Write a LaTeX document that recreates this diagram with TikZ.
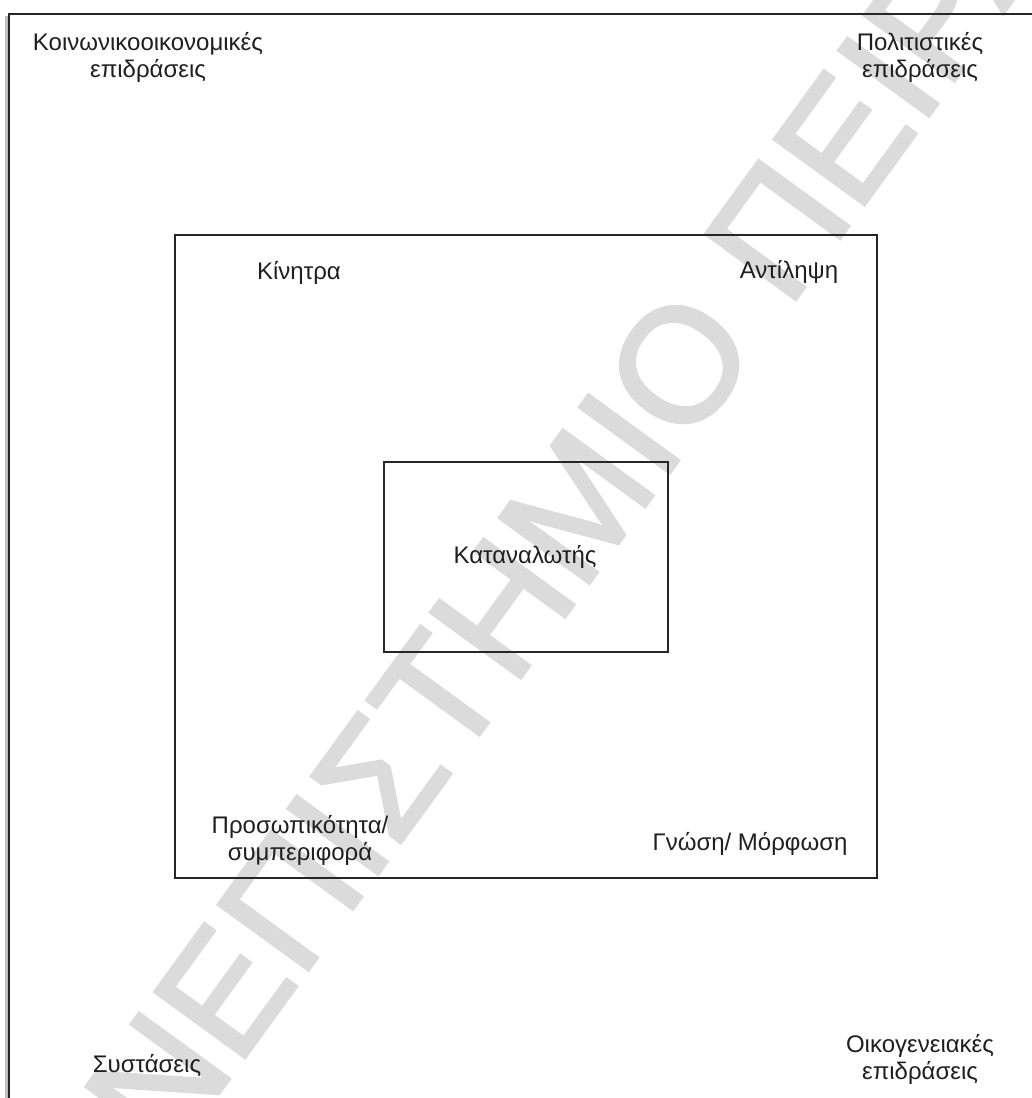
\documentclass[tikz,border=0pt]{standalone}
\usepackage{fontspec}
\setmainfont{Liberation Sans}
\newfontfamily\stampface[FakeBold=2]{Liberation Sans}
\begin{document}
\begin{tikzpicture}[x=1pt,y=-1pt,
  frame/.style={draw=black!85,line width=1.4pt},
  lbl/.style={inner sep=0pt,text=black!88,font=\fontsize{24}{27}\selectfont,align=center},
  stampfont/.style={inner sep=0pt,text=black!14,font=\stampface\fontsize{162}{162}\selectfont}
]
\useasboundingbox (0,0) rectangle (1032,1098);
\clip (0,0) rectangle (1032,1098);
\fill[white] (0,0) rectangle (1032,1098);

% background stamp
\node[stampfont,anchor=base west,rotate=54] (stamp) at (36,1345) {ΠΑΝΕΠΙΣΤΗΜΙΟ ΠΕΙΡΑΙΩΣ};

% outer frame with soft shadow on its left edge
\draw[black!25,line width=3pt] (6,16) -- (6,1110);
\draw[frame] (9,14) rectangle (1045,1115);
% middle and inner frames
\draw[frame] (175,235) rectangle (877,878);
\node[frame,draw,minimum width=284pt,minimum height=190pt,inner sep=0pt] (cons) at (526,557) {};

% labels
\node[lbl] (socio) at (148,57) {Κοινωνικοοικονομικές\\επιδράσεις};
\node[lbl] (cult) at (920,57) {Πολιτιστικές\\επιδράσεις};
\node[lbl,anchor=base] (motiv) at (299,279) {Κίνητρα};
\node[lbl,anchor=base] (perc) at (789,278) {Αντίληψη};
\node[lbl,anchor=base] (consl) at (525,563) {Καταναλωτής};
\node[lbl] (pers) at (300,840) {Προσωπικότητα/\\συμπεριφορά};
\node[lbl,anchor=base] (know) at (750,850) {Γνώση/ Μόρφωση};
\node[lbl,anchor=base] (recom) at (147,1072) {Συστάσεις};
\node[lbl] (fam) at (920,1059) {Οικογενειακές\\επιδράσεις};
\end{tikzpicture}
\end{document}
